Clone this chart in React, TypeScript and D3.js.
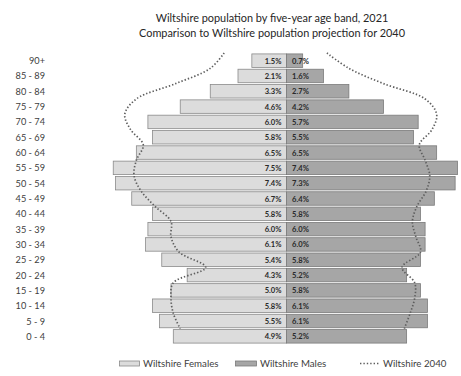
import React from "react";
import * as d3 from "d3";

const ageBands = ["90+", "85 - 89", "80 - 84", "75 - 79", "70 - 74", "65 - 69", "60 - 64", "55 - 59", "50 - 54", "45 - 49", "40 - 44", "35 - 39", "30 - 34", "25 - 29", "20 - 24", "15 - 19", "10 - 14", "5 - 9", "0 - 4"];
const females2021 = [1.5, 2.1, 3.3, 4.6, 6.0, 5.8, 6.5, 7.5, 7.4, 6.7, 5.8, 6.0, 6.1, 5.4, 4.3, 5.0, 5.8, 5.5, 4.9];
const males2021 = [0.7, 1.6, 2.7, 4.2, 5.7, 5.5, 6.5, 7.4, 7.3, 6.4, 5.8, 6.0, 6.0, 5.8, 5.2, 5.8, 6.1, 6.1, 5.2];
const females2040 = [2.7, 3.3, 4.8, 6.5, 7.0, 6.75, 6.2, 6.5, 6.6, 6.3, 5.7, 5.0, 5.0, 4.65, 3.5, 4.9, 5.0, 4.9, 4.6];
const males2040 = [1.75, 2.7, 4.2, 6.0, 6.5, 6.3, 5.75, 6.0, 6.2, 6.05, 5.65, 5.45, 5.6, 5.8, 5.0, 5.55, 5.55, 5.35, 5.1];
const titleLines = ["Wiltshire population by five-year age band, 2021", "Comparison to Wiltshire population projection for 2040"];
const legendLabels = ["Wiltshire Females", "Wiltshire Males", "Wiltshire 2040"];

const W = 461;
const H = 376;
const CX = 286.5;
const FONT = "Lato, 'Open Sans', sans-serif";

export default function App() {
  const x = d3.scaleLinear().domain([0, 8]).range([0, 184.8]);
  const y = d3.scaleBand<string>().domain(ageBands).range([53, 344]).paddingInner(0.12).paddingOuter(0.06);
  const bw = y.bandwidth();
  const step = y.step();
  const lineY = (c: string) => (y(c) as number) + bw / 2 - step / 2;

  const line = d3
    .line<[number, number]>()
    .x((d) => d[0])
    .y((d) => d[1])
    .curve(d3.curveCatmullRom.alpha(0.5));

  const leftPts: [number, number][] = ageBands.map((c, i) => [CX - x(females2040[i]), lineY(c)]);
  const rightPts: [number, number][] = ageBands.map((c, i) => [CX + x(males2040[i]), lineY(c)]);

  const dotStyle = { fill: "none", stroke: "#5e5e5e", strokeWidth: 1.7, strokeDasharray: "1.4 2" };

  return (
    <svg width={W} height={H} style={{ position: "absolute", left: 0, top: 0, background: "#fff" }} fontFamily={FONT}>
      <rect x={0} y={0} width={W} height={H} fill="#fff" />
      {titleLines.map((t, i) => (
        <text key={t} x={272} y={22 + i * 15} textAnchor="middle" fontSize={10.9} fill="#262626">
          {t}
        </text>
      ))}
      {ageBands.map((c, i) => {
        const yy = y(c) as number;
        const fw = x(females2021[i]);
        const mw = x(males2021[i]);
        return (
          <g key={c}>
            <rect x={CX - fw} y={yy} width={fw} height={bw} fill="#dcdcdc" stroke="#8a8a8a" strokeWidth={0.8} />
            <rect x={CX} y={yy} width={mw} height={bw} fill="#a6a6a6" stroke="#7a7a7a" strokeWidth={0.8} />
            <text x={45} y={yy + bw / 2} textAnchor="end" dominantBaseline="central" fontSize={9.2} fill="#404040">
              {c}
            </text>
            <text x={CX - 5} y={yy + bw / 2} textAnchor="end" dominantBaseline="central" fontSize={7.6} fontWeight="bold" fill="#2a2a2a">
              {females2021[i].toFixed(1)}%
            </text>
            <text x={CX + 5.5} y={yy + bw / 2} textAnchor="start" dominantBaseline="central" fontSize={7.6} fontWeight="bold" fill="#2a2a2a">
              {males2021[i].toFixed(1)}%
            </text>
          </g>
        );
      })}
      <path d={line(leftPts) || ""} {...dotStyle} />
      <path d={line(rightPts) || ""} {...dotStyle} />
      <g fontSize={9.7} fill="#404040">
        <rect x={119.5} y={361} width={20} height={5} fill="#dcdcdc" stroke="#8a8a8a" strokeWidth={0.8} />
        <text x={143} y={367}>{legendLabels[0]}</text>
        <rect x={235.5} y={361} width={21} height={5} fill="#a6a6a6" stroke="#7a7a7a" strokeWidth={0.8} />
        <text x={260} y={367}>{legendLabels[1]}</text>
        <line x1={360} x2={380} y1={363.5} y2={363.5} {...dotStyle} />
        <text x={383} y={367}>{legendLabels[2]}</text>
      </g>
    </svg>
  );
}
